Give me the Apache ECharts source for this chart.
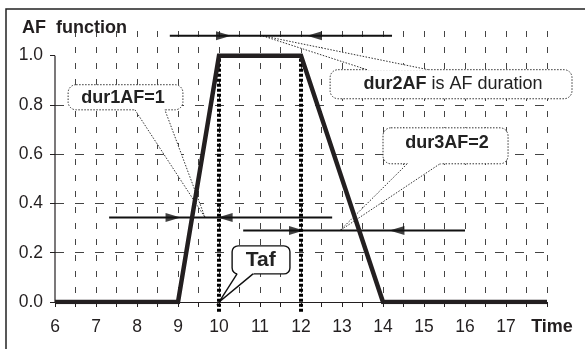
<!DOCTYPE html>
<html><head><meta charset="utf-8">
<script src="https://cdn.jsdelivr.net/npm/echarts@6/dist/echarts.min.js"></script>
<style>html,body{margin:0;padding:0;background:#fff}#c{width:585px;height:349px}</style>
</head><body><div id="c"></div>
<script>
// ---- data ----
const timeTicks = [6,7,8,9,10,11,12,13,14,15,16,17,18];
const yTicks = [0,0.2,0.4,0.6,0.8,1.0];
const afTime = [6,9,10,12,14,18];
const afValue = [0,0,1,1,0,0];
const markerTimes = [10,12];
const markerRange = [-0.04, 1.0];
const arrowLines = [[8.80,14.22,1.081],[7.32,12.76,0.343],[10.59,16.0,0.29]];
const rightHeads = [[10.11,1.081],[8.88,0.343],[11.89,0.29]];
const leftHeads = [[12.33,1.081],[10.15,0.343],[14.34,0.29]];

// ---- annotations (data coordinates) ----
const callouts = [
  {text:'{b|dur1AF=1}', box:[6.32,0.882,9.12,0.780], at:[7.66,0.829], tail:[[7.95,0.780],[8.68,0.780],[9.66,0.343]], solid:false},
  {text:'{b|dur2AF}{n| is AF duration}', box:[12.71,0.943,18.61,0.825], at:[15.71,0.886], tail:[[13.61,0.943],[15.10,0.943],[11.05,1.081]], solid:false},
  {text:'{b|dur3AF=2}', box:[14.0,0.707,17.05,0.561], at:[15.56,0.644], tail:[[14.59,0.561],[15.39,0.561],[12.95,0.29]], solid:false},
  {text:'{t|Taf}', box:[10.32,0.228,11.73,0.114], at:[11.02,0.171], tail:[[10.44,0.114],[10.83,0.114],[10.0,0.0]], solid:true}
];

const FONT = 'Liberation Sans, Arial, Helvetica, sans-serif';
const INK = '#231f20';
const chart = echarts.init(document.getElementById('c'), null, {renderer:'canvas'});

const series = [];
series.push({type:'line', data:[[6,0],[6,1]], symbol:'none', silent:true, z:2,
  lineStyle:{color:INK, width:1.2}});
arrowLines.forEach(a => series.push({type:'line', data:[[a[0],a[2]],[a[1],a[2]]], symbol:'none', silent:true, z:3,
  lineStyle:{color:'#111', width:2}}));
series.push({type:'scatter', data:rightHeads, symbol:'triangle', symbolSize:[9,15], symbolRotate:-90, silent:true, z:3,
  itemStyle:{color:'#111'}});
series.push({type:'scatter', data:leftHeads, symbol:'triangle', symbolSize:[9,15], symbolRotate:90, silent:true, z:3,
  itemStyle:{color:'#111'}});
markerTimes.forEach(t => series.push({type:'line', data:[[t,markerRange[0]],[t,markerRange[1]]], symbol:'none', silent:true, clip:false, z:4,
  lineStyle:{color:'#000', width:4, type:[3,2]}}));
series.push({type:'line', data:afTime.map((t,i)=>[t,afValue[i]]), symbol:'none', silent:true, z:5,
  lineStyle:{color:INK, width:4.5, join:'miter'}});

chart.setOption({
  animation:false,
  backgroundColor:'#fff',
  title:{text:'AF  function', left:22, top:19, padding:0,
    textStyle:{fontFamily:FONT, fontWeight:'bold', fontSize:18, color:INK}},
  grid:{left:55, right:38, top:31, bottom:47, containLabel:false, outerBoundsMode:'none'},
  xAxis:{type:'value', min:6, max:18, interval:0.5,
    axisLine:{show:true, lineStyle:{color:INK, width:1.2}},
    axisTick:{show:true, length:5, lineStyle:{color:INK}},
    axisLabel:{customValues:timeTicks, margin:16, color:INK, fontSize:17.5, fontFamily:FONT,
      formatter: v => v === 18 ? '{t|Time}' : String(v),
      rich:{t:{fontFamily:FONT, fontWeight:'bold', fontSize:18, color:INK, padding:[0,0,0,10]}}},
    splitLine:{show:true, showMinLine:false, lineStyle:{color:'#444', width:1, type:[6,10]}}
  },
  yAxis:{type:'value', min:0, max:1.1, interval:0.2,
    axisLine:{show:false},
    axisTick:{show:true, customValues:yTicks, length:5, lineStyle:{color:INK}},
    axisLabel:{customValues:yTicks, margin:12, color:INK, fontSize:17.5, fontFamily:FONT,
      formatter: v => v.toFixed(1)},
    splitLine:{show:true, showMaxLine:false, lineStyle:{color:'#444', width:1, type:[9,11]}}
  },
  series: series
});

// ---- callouts & frame drawn from data coordinates ----
const px = p => chart.convertToPixel({gridIndex:0}, p);
const graphics = [];
graphics.push({type:'rect', silent:true, z:20, shape:{x:6, y:9, width:800, height:600},
  style:{fill:null, stroke:'#222', lineWidth:1.5}});
const rich = {
  b:{fontFamily:FONT, fontWeight:'bold', fontSize:18, fill:'#222'},
  n:{fontFamily:FONT, fontWeight:'normal', fontSize:18, fill:'#222'},
  t:{fontFamily:FONT, fontWeight:'bold', fontSize:21, fill:'#222'}
};
callouts.forEach(c => {
  const a = px([c.box[0], c.box[1]]), b = px([c.box[2], c.box[3]]);
  const x0 = Math.min(a[0],b[0]), y0 = Math.min(a[1],b[1]);
  const w = Math.abs(b[0]-a[0]), h = Math.abs(b[1]-a[1]);
  const stroke = c.solid ? {stroke:'#111', lineWidth:1.4} : {stroke:'#333', lineWidth:1, lineDash:[1.5,1.5]};
  const tip = px(c.tail[2]), b1 = px(c.tail[0]), b2 = px(c.tail[1]);
  const ext = q => { const dx=q[0]-tip[0], dy=q[1]-tip[1], L=Math.hypot(dx,dy); return [q[0]+dx/L*2.5, q[1]+dy/L*2.5]; };
  graphics.push({type:'rect', silent:true, z:1, z2:0, shape:{x:x0, y:y0, width:w, height:h, r:c.solid?6:8},
    style:Object.assign({fill:'#fff'}, stroke)});
  graphics.push({type:'polygon', silent:true, z:1, z2:1, shape:{points:[ext(b1), tip, ext(b2)]},
    style:{fill:'#fff', stroke:null}});
  graphics.push({type:'polyline', silent:true, z:1, z2:2, shape:{points:[b1, tip, b2]},
    style:Object.assign({fill:null}, stroke)});
  const t = px(c.at);
  graphics.push({type:'text', silent:true, z:1, z2:3, x:t[0], y:t[1],
    style:{text:c.text, rich:rich, align:'center', verticalAlign:'middle', fontFamily:FONT, fontSize:18, fill:'#222'}});
});
chart.setOption({graphic:graphics});
</script>
</body></html>
